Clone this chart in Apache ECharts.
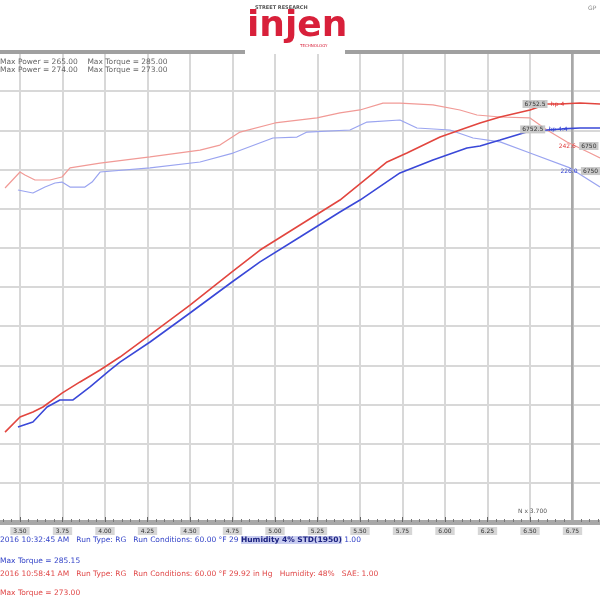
<!DOCTYPE html>
<html><head><meta charset="utf-8">
<script src="https://cdn.jsdelivr.net/npm/echarts@6/dist/echarts.min.js"></script>
<style>html,body{margin:0;padding:0;background:#fff}#c{width:600px;height:600px}</style>
</head><body><div id="c"></div>
<script>
// RPM x1000
const rpmTickLabels = ['3.25','3.50','3.75','4.00','4.25','4.50','4.75','5.00','5.25','5.50','5.75','6.00','6.25','6.50','6.75','7.00'];

const redPowerRpm = [3.412,3.5,3.576,3.635,3.747,3.853,3.971,4.088,4.265,4.5,4.747,4.912,5.147,5.382,5.659,5.776,5.971,6.088,6.206,6.324,6.5,6.6,6.676,6.794,6.912];
const redPowerVal = [57.4,67.0,70.2,73.4,82.3,89.4,97.0,105.3,119.4,138.5,159.6,173.6,189.6,205.5,229.8,235.5,245.7,250.2,254.7,258.5,263.0,266.8,266.8,267.4,266.8];

const bluePowerRpm = [3.488,3.576,3.659,3.735,3.812,3.912,4.029,4.088,4.265,4.5,4.747,4.912,5.147,5.382,5.5,5.735,5.929,6.129,6.206,6.324,6.5,6.6,6.688,6.794,6.912];
const bluePowerVal = [60.6,63.8,73.4,77.9,77.9,86.2,97.0,102.1,114.9,133.4,153.2,166.0,181.9,197.9,205.5,222.8,231.1,238.7,240.0,243.8,249.6,250.2,250.9,251.5,251.5];

const redTorqueRpm = [3.412,3.5,3.529,3.588,3.676,3.747,3.794,3.971,4.265,4.559,4.676,4.794,5.0,5.247,5.382,5.5,5.635,5.735,5.929,6.088,6.188,6.324,6.5,6.6,6.718,6.853,6.912];
const redTorqueVal = [213.2,223.4,221.5,218.3,218.3,220.2,226.0,229.1,233.0,237.4,240.6,248.9,254.7,257.9,261.1,263.0,267.4,267.4,266.2,263.0,259.8,258.5,257.9,250.2,242.6,235.5,232.3];

const blueTorqueRpm = [3.488,3.576,3.647,3.706,3.747,3.794,3.882,3.924,3.971,4.265,4.559,4.753,4.988,5.129,5.188,5.441,5.541,5.735,5.835,6.029,6.165,6.324,6.5,6.735,6.912];
const blueTorqueVal = [211.9,210.0,213.8,216.4,217.0,213.8,213.8,217.0,223.4,226.0,229.8,235.5,245.1,245.7,248.9,250.2,255.3,256.6,251.5,250.2,245.1,242.6,235.5,226.0,213.8];

const pair = (xs, ys) => xs.map((x, i) => [x, ys[i]]);

const chart = echarts.init(document.getElementById('c'), null, {renderer: 'canvas'});

function tag(rpm, val, boxText, valText, color, pos) {
  return {
    coord: [rpm, val], symbol: 'circle', symbolSize: 1,
    itemStyle: {color: 'rgba(0,0,0,0)'},
    label: {
      show: true, position: pos, distance: 1,
      formatter: pos === 'left' ? '{b|' + boxText + '} {v|' + valText + '}' : '{v|' + valText + '} {b|' + boxText + '}',
      rich: {
        b: {fontSize: 6, color: '#333', backgroundColor: '#c8c8c8', padding: [1, 2], fontFamily: 'DejaVu Sans'},
        v: {fontSize: 6, color: color, fontFamily: 'DejaVu Sans'}
      }
    }
  };
}

const option = {
  animation: false,
  backgroundColor: '#fff',
  grid: {left: -22.5, right: -15, top: 52, bottom: 78, containLabel: false, outerBoundsMode: 'none'},
  xAxis: {
    type: 'value', min: 3.25, max: 7.0, interval: 0.25,
    axisLine: {show: true, lineStyle: {color: '#a8a8a8', width: 5}},
    axisTick: {show: true, inside: true, length: 5, lineStyle: {color: '#666', width: 1}},
    minorTick: {show: true, splitNumber: 5, length: 3, lineStyle: {color: '#777'}},
    axisLabel: {
      fontSize: 6, color: '#333', backgroundColor: '#d6d6d6', padding: [1, 3], margin: 5,
      fontFamily: 'DejaVu Sans',
      formatter: v => { const i = Math.round((v - 3.25) / 0.25); return rpmTickLabels[i] || ''; }
    },
    splitLine: {show: true, lineStyle: {color: '#d8d8d8', width: 2}}
  },
  yAxis: {
    type: 'value', min: 0, max: 300, interval: 25,
    axisLine: {show: false}, axisTick: {show: false}, axisLabel: {show: false},
    splitLine: {show: true, lineStyle: {color: '#d8d8d8', width: 2}}
  },
  series: [
    {name: 'Torque (run 2)', type: 'line', data: pair(redTorqueRpm, redTorqueVal), showSymbol: false,
     lineStyle: {color: '#f19a96', width: 1.2}, z: 3,
     markPoint: {data: [tag(6.66, 240.0, '6750', '242.6', '#e04040', 'right')]}},
    {name: 'Torque (run 1)', type: 'line', data: pair(blueTorqueRpm, blueTorqueVal), showSymbol: false,
     lineStyle: {color: '#9aa4f0', width: 1.2}, z: 3,
     markPoint: {data: [tag(6.67, 224.0, '6750', '226.0', '#3040d0', 'right')]}},
    {name: 'Power (run 2)', type: 'line', data: pair(redPowerRpm, redPowerVal), showSymbol: false,
     lineStyle: {color: '#e2463f', width: 1.6}, z: 4,
     markPoint: {data: [tag(6.71, 266.8, '6752.5', 'hp 4', '#e03030', 'left')]}},
    {name: 'Power (run 1)', type: 'line', data: pair(bluePowerRpm, bluePowerVal), showSymbol: false,
     lineStyle: {color: '#3a48d8', width: 1.6}, z: 4,
     markPoint: {data: [tag(6.73, 250.6, '6752.5', 'hp 4.4', '#3040d0', 'left')]}}
  ],
  graphic: [
    {type: 'rect', shape: {x: 245, y: 48, width: 100, height: 6}, style: {fill: '#fff'}, z: 9},
    {type: 'rect', shape: {x: 0, y: 50, width: 245, height: 4}, style: {fill: '#a0a0a0'}, z: 10},
    {type: 'rect', shape: {x: 345, y: 50, width: 255, height: 4}, style: {fill: '#a0a0a0'}, z: 10},
    {type: 'rect', shape: {x: 571, y: 52, width: 2.5, height: 470}, style: {fill: '#a8a8a8'}, z: 2},
    {type: 'text', left: 255, top: 5, style: {text: 'STREET RESEARCH', fontSize: 5, fontWeight: 'bold', fill: '#555', fontFamily: 'DejaVu Sans'}, z: 10},
    {type: 'text', left: 247, top: 9, style: {text: 'injen', fontSize: 36, fontWeight: 'bold', fill: '#d8203a', fontFamily: 'DejaVu Sans'}, z: 10},
    {type: 'text', left: 300, top: 44, style: {text: 'TECHNOLOGY', fontSize: 4, fill: '#d8203a', fontFamily: 'DejaVu Sans'}, z: 10},
    {type: 'text', left: 588, top: 5, style: {text: 'GP', fontSize: 6, fill: '#888', fontFamily: 'DejaVu Sans'}, z: 10},
    {type: 'text', left: 0, top: 58, style: {text: 'Max Power = 265.00    Max Torque = 285.00\nMax Power = 274.00    Max Torque = 273.00', fontSize: 7.5, lineHeight: 8, fill: '#666', fontFamily: 'DejaVu Sans'}, z: 10},
    {type: 'text', left: 518, top: 508, style: {text: 'N x 3.700', fontSize: 6, fill: '#555', fontFamily: 'DejaVu Sans'}, z: 10},
    {type: 'text', left: 0, top: 536, style: {
      text: '{a|2016 10:32:45 AM   Run Type: RG   Run Conditions: 60.00 °F 29 }{h|Humidity 4% STD(1950)}{a| 1.00}',
      rich: {
        a: {fontSize: 7.5, fill: '#3444c8', fontFamily: 'DejaVu Sans'},
        h: {fontSize: 7.5, fill: '#1c2280', fontWeight: 'bold', backgroundColor: '#c8ccf0', fontFamily: 'DejaVu Sans'}
      }}, z: 10},
    {type: 'text', left: 0, top: 557, style: {text: 'Max Torque = 285.15', fontSize: 7.5, fill: '#3444c8', fontFamily: 'DejaVu Sans'}, z: 10},
    {type: 'text', left: 0, top: 570, style: {text: '2016 10:58:41 AM   Run Type: RG   Run Conditions: 60.00 °F 29.92 in Hg   Humidity: 48%   SAE: 1.00', fontSize: 7.5, fill: '#e04848', fontFamily: 'DejaVu Sans'}, z: 10},
    {type: 'text', left: 0, top: 589, style: {text: 'Max Torque = 273.00', fontSize: 7.5, fill: '#e04848', fontFamily: 'DejaVu Sans'}, z: 10}
  ]
};
chart.setOption(option);
</script>
</body></html>
